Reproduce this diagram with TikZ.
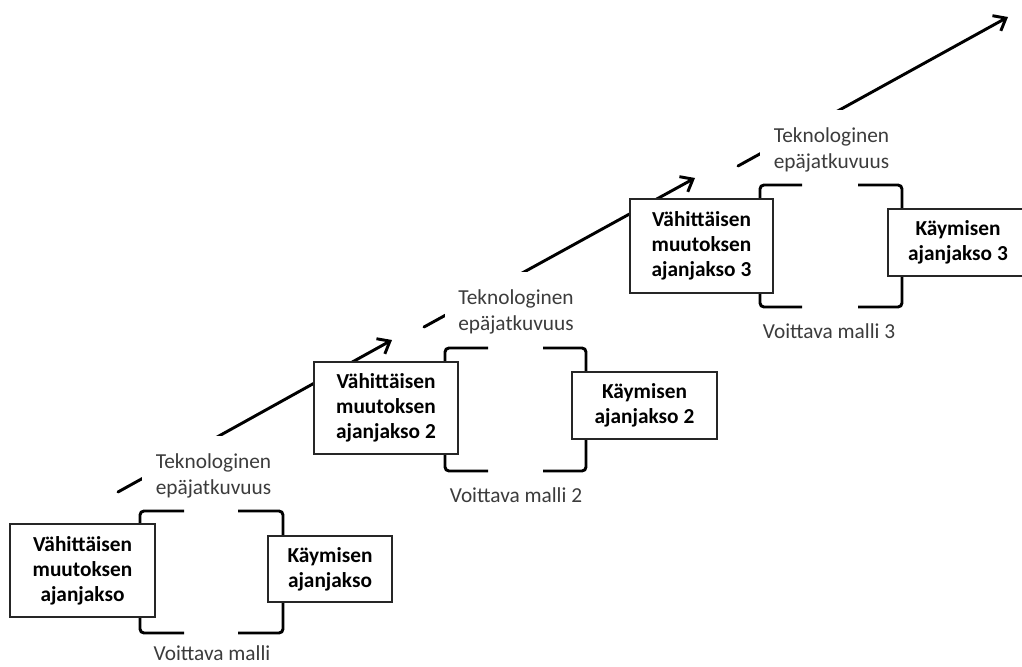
\documentclass[tikz,border=0pt]{standalone}
\usepackage{fontspec}
\setmainfont{Carlito}
\usetikzlibrary{arrows.meta}
\definecolor{labelgray}{HTML}{3C3C3C}
\definecolor{framegray}{HTML}{262626}
\tikzset{
  % one unit = one pixel of a 1022 x 667 canvas, y pointing down
  flow/.style={line width=2.2pt, line cap=round,
    -{Straight Barb[length=8pt,width=13pt]}},
  bracket/.style={line width=2.2pt, rounded corners=3pt},
  periodbox/.style={draw=framegray, line width=0.9pt, fill=white, inner sep=0pt,
    align=center, font=\bfseries\fontsize{16}{18.75}\selectfont},
  disclabel/.style={fill=white, text=labelgray, align=center,
    inner xsep=10pt, inner ysep=13pt, font=\fontsize{16}{19.5}\selectfont},
  modellabel/.style={text=labelgray, anchor=base, inner sep=0pt,
    font=\fontsize{16}{19.5}\selectfont}
}
\begin{document}
\begin{tikzpicture}[x=0.75pt, y=-0.75pt]
\clip (0,0) rectangle (1022,667);
\fill[white] (0,0) rectangle (1022,667);

% rising trend, one arrow per era
\coordinate (s1) at (118,492);
\coordinate (e1) at (392,340);
\coordinate (s2) at (424,327);
\coordinate (e2) at (695,178);
\coordinate (s3) at (738,166);
\coordinate (e3) at (1008,17);
\draw[flow] (s1) -- (e1);
\draw[flow] (s2) -- (e2);
\draw[flow] (s3) -- (e3);

% discontinuity labels break the trend line
\node[disclabel] (d1) at (213.5,476) {Teknologinen\\epäjatkuvuus};
\node[disclabel] (d2) at (516,312) {Teknologinen\\epäjatkuvuus};
\node[disclabel] (d3) at (831.5,150) {Teknologinen\\epäjatkuvuus};

% brackets around each dominant design phase
\draw[bracket] (184,511) -- (140,511) -- (140,633) -- (184,633);
\draw[bracket] (238,511) -- (283,511) -- (283,633) -- (238,633);
\draw[bracket] (488,348) -- (445,348) -- (445,471) -- (488,471);
\draw[bracket] (543,348) -- (586,348) -- (586,471) -- (543,471);
\draw[bracket] (802,185) -- (760,185) -- (760,307) -- (802,307);
\draw[bracket] (858,185) -- (902,185) -- (902,307) -- (858,307);

% period boxes
\node[periodbox, minimum width=108.75pt, minimum height=69.75pt] (v1) at (82.5,570.5)
  {Vähittäisen\\muutoksen\\ajanjakso};
\node[periodbox, minimum width=93pt, minimum height=49.5pt] (k1) at (330,569)
  {Käymisen\\ajanjakso};
\node[periodbox, minimum width=108pt, minimum height=69pt] (v2) at (386,408)
  {Vähittäisen\\muutoksen\\ajanjakso 2};
\node[periodbox, minimum width=108.75pt, minimum height=50.25pt] (k2) at (644.5,405.5)
  {Käymisen\\ajanjakso 2};
\node[periodbox, minimum width=107.25pt, minimum height=70.5pt] (v3) at (701.5,246)
  {Vähittäisen\\muutoksen\\ajanjakso 3};
\node[periodbox, minimum width=105pt, minimum height=50.25pt] (k3) at (958,242.5)
  {Käymisen\\ajanjakso 3};

% dominant design captions
\node[modellabel] (m1) at (212,660) {Voittava malli};
\node[modellabel] (m2) at (516,502) {Voittava malli 2};
\node[modellabel] (m3) at (829,338) {Voittava malli 3};
\end{tikzpicture}
\end{document}
